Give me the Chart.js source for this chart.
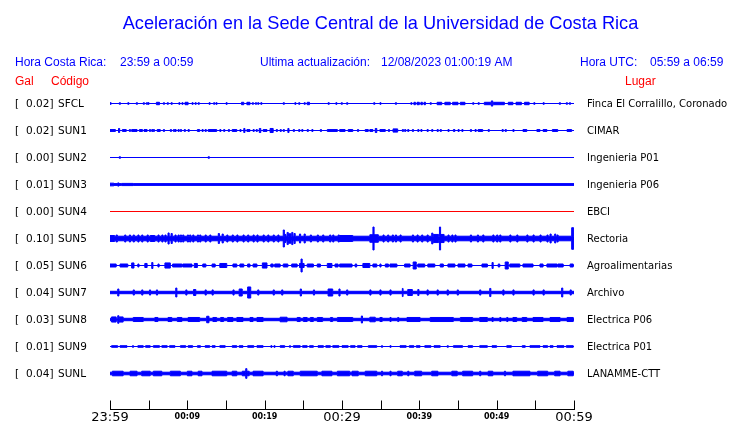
<!DOCTYPE html>
<html>
<head>
<meta charset="utf-8">
<title>Aceleración en la Sede Central de la Universidad de Costa Rica</title>
<script src="https://cdn.jsdelivr.net/npm/chart.js@4.4.1/dist/chart.umd.min.js"></script>
<style>
    html, body { margin: 0; padding: 0; background: #fff; }
    #wrap { position: relative; width: 740px; height: 423px; }
</style>
</head>
<body>
<div id="wrap"><canvas id="accelChart" width="740" height="423"></canvas></div>
<script>
"use strict";

// ---- data ----
const chartTitle = "Aceleración en la Sede Central de la Universidad de Costa Rica";
const localRange = "23:59 a 00:59";
const utcRange = "05:59 a 06:59";
const lastUpdate = "12/08/2023 01:00:19 AM";

const stationCodes = ["SFCL", "SUN1", "SUN2", "SUN3", "SUN4", "SUN5", "SUN6", "SUN7", "SUN8", "SUN9", "SUNL"];
const stationPlaces = ["Finca El Corralillo, Coronado", "CIMAR", "Ingenieria P01", "Ingenieria P06", "EBCI",
    "Rectoria", "Agroalimentarias", "Archivo", "Electrica P06", "Electrica P01", "LANAMME-CTT"];
const stationPeaks = [0.02, 0.02, 0.00, 0.01, 0.00, 0.10, 0.05, 0.04, 0.03, 0.01, 0.04];

// background noise level of each trace (Gal, half width)
const stationFloors = [0, 0, 0, 0.0065, 0, 0.017, 0, 0.009, 0.009, 0, 0.0095];

// envelope events: [minute, Gal] = single spike, [fromMinute, toMinute, Gal] = burst
const sfclEvents = [
    [0, 0.006], [1.2, 0.006], [2.3, 0.006], [3.4, 0.006], [4.3, 0.006], [4.7, 0.006], [4.9, 0.006],
    [6.0, 6.4, 0.009], [6.9, 0.006], [7.4, 0.006], [7.9, 0.006], [8.9, 0.006], [9.3, 0.006],
    [9.7, 10.1, 0.009], [10.6, 0.006], [11.0, 0.006], [11.4, 0.006], [12.8, 0.006], [13.4, 0.006],
    [13.7, 0.006], [15.0, 0.006], [17.0, 17.3, 0.009], [17.7, 18.1, 0.009], [18.4, 0.006], [18.8, 0.006],
    [19.1, 0.006], [19.5, 0.006], [22.4, 0.006], [23.9, 0.006], [24.4, 0.006], [25.1, 0.006],
    [25.5, 25.8, 0.009], [28.2, 0.006], [29.2, 0.006], [29.9, 0.006], [30.6, 0.006], [34.1, 0.006],
    [34.9, 0.006], [36.9, 0.006], [38.9, 0.006], [39.3, 39.5, 0.009], [39.7, 40.0, 0.009],
    [40.2, 40.4, 0.009], [40.6, 40.8, 0.009], [41.4, 0.006], [42.3, 42.9, 0.009], [43.3, 44.0, 0.009],
    [44.3, 45.0, 0.009], [45.3, 45.9, 0.009], [46.9, 0.006], [47.6, 0.006], [48.4, 49.2, 0.009],
    [49.3, 49.5, 0.019], [49.6, 51.0, 0.009], [51.5, 52.1, 0.009], [52.5, 53.2, 0.009], [53.6, 54.2, 0.009],
    [54.8, 0.006], [56.0, 0.006], [58.1, 0.006], [59.0, 0.006], [59.4, 0.006]
];
const sun1Events = [
    [0, 0.7, 0.007], [1.1, 0.015], [1.6, 2.1, 0.007], [2.5, 0.007], [2.8, 3.5, 0.007], [3.8, 4.2, 0.007],
    [4.4, 4.8, 0.007], [5.1, 0.007], [5.4, 0.007], [5.6, 0.007], [6.1, 6.5, 0.007], [6.9, 0.007],
    [7.8, 0.007], [8.2, 0.007], [8.4, 0.007], [8.8, 0.007], [9.1, 0.007], [9.6, 0.007], [10.1, 0.007],
    [11.3, 11.6, 0.007], [11.9, 0.007], [12.3, 0.007], [12.7, 13.8, 0.007], [14.2, 0.007], [14.7, 0.007],
    [15.3, 0.007], [15.8, 16.4, 0.007], [16.8, 0.007], [17.3, 0.015], [17.7, 18.1, 0.007], [18.5, 0.007],
    [18.9, 0.007], [19.3, 19.5, 0.015], [19.8, 20.3, 0.007], [20.7, 21.1, 0.015], [21.5, 0.007],
    [22.0, 0.007], [22.4, 0.007], [23.0, 0.015], [23.7, 0.007], [24.4, 0.007], [24.8, 0.007],
    [25.5, 0.007], [26.1, 0.007], [27.2, 0.007], [28.1, 29.4, 0.007], [29.7, 30.4, 0.007],
    [30.8, 31.4, 0.007], [32.0, 0.007], [33.0, 33.4, 0.007], [33.6, 34.0, 0.007], [34.3, 34.5, 0.015],
    [34.9, 35.6, 0.007], [36.0, 0.007], [36.6, 37.2, 0.012], [37.8, 0.007], [38.1, 0.007], [38.5, 0.007],
    [39.1, 0.007], [39.8, 0.007], [40.2, 0.007], [41.0, 0.007], [41.6, 0.007], [42.3, 0.007],
    [42.7, 0.007], [43.7, 0.007], [44.4, 44.6, 0.007], [45.0, 0.007], [45.5, 0.007], [46.6, 0.007],
    [47.2, 0.007], [47.6, 48.2, 0.007], [48.9, 0.007], [50.7, 0.007], [51.1, 0.007], [52.1, 0.007],
    [53.4, 53.9, 0.007], [55.2, 55.6, 0.007], [56.0, 56.5, 0.007], [57.2, 57.9, 0.007], [59.1, 59.7, 0.007]
];
const sun2Events = [[1.2, 0.006], [12.7, 0.006]];
const sun3Events = [[0, 0.5, 0.010], [1.0, 0.012], [1.5, 3.0, 0.008]];
const sun4Events = [];
const sun5Events = [
    [0, 0.6, 0.022], [0.8, 0.026], [1.9, 0.026], [2.5, 0.026], [3.0, 0.026], [3.6, 0.026], [4.1, 0.026],
    [4.8, 0.026], [5.2, 5.8, 0.022], [6.2, 0.026], [6.7, 0.026], [7.1, 0.026], [7.5, 0.041], [7.9, 0.037],
    [8.4, 0.026], [8.8, 0.026], [9.1, 0.026], [9.4, 0.026], [10.0, 0.026], [10.3, 0.026], [10.7, 0.026],
    [11.3, 0.026], [11.6, 0.026], [12.3, 0.026], [12.9, 0.026], [14.0, 0.037], [14.5, 0.033],
    [15.1, 0.026], [15.8, 0.026], [16.4, 0.026], [17.2, 0.026], [17.8, 0.026], [18.5, 0.026],
    [19.0, 0.026], [19.8, 0.026], [20.4, 0.026], [21.1, 0.026], [21.7, 0.026], [22.4, 0.063],
    [22.6, 0.030], [22.9, 0.045], [23.1, 23.4, 0.035], [23.5, 0.045], [23.8, 0.037], [24.5, 0.033],
    [25.1, 0.033], [25.9, 0.026], [26.8, 0.026], [27.5, 0.026], [28.4, 0.026], [28.8, 0.026],
    [29.5, 0.026], [29.7, 31.4, 0.022], [33.6, 34.0, 0.028], [34.0, 0.085], [34.15, 34.7, 0.028],
    [35.3, 0.026], [35.9, 0.026], [36.5, 0.026], [36.9, 0.026], [37.5, 0.026], [39.1, 0.026],
    [39.7, 0.026], [40.3, 0.026], [41.0, 0.026], [41.6, 0.040], [41.8, 42.5, 0.030], [42.6, 0.085],
    [42.75, 43.2, 0.030], [43.7, 0.026], [44.2, 0.026], [44.6, 0.026], [46.6, 0.026], [47.5, 0.026],
    [48.2, 0.026], [49.5, 0.026], [50.0, 0.026], [50.4, 0.026], [51.7, 0.026], [52.6, 0.026],
    [53.9, 0.026], [54.7, 0.026], [55.6, 0.026], [56.5, 0.026], [56.9, 0.033], [57.5, 0.033],
    [57.8, 0.026], [59.7, 59.95, 0.080]
];
const sun6Events = [
    [0, 0.8, 0.011], [1.3, 2.3, 0.011], [2.8, 3.1, 0.019], [3.6, 0.011], [4.5, 4.8, 0.015], [5.4, 0.022],
    [6.2, 0.011], [7.1, 7.8, 0.019], [8.1, 9.3, 0.011], [9.4, 10.6, 0.011], [10.9, 11.3, 0.015],
    [12.0, 12.4, 0.011], [13.2, 13.6, 0.011], [14.2, 15.1, 0.015], [15.9, 16.4, 0.011], [16.8, 17.3, 0.011],
    [17.8, 18.1, 0.011], [18.5, 19.0, 0.011], [19.7, 20.3, 0.019], [20.8, 21.1, 0.011], [21.3, 22.0, 0.011],
    [22.4, 23.0, 0.011], [23.5, 24.2, 0.011], [24.5, 24.7, 0.015], [24.7, 0.048], [24.85, 25.1, 0.015],
    [25.5, 26.3, 0.011], [26.8, 27.2, 0.011], [28.1, 28.7, 0.015], [29.1, 29.5, 0.011], [29.7, 31.3, 0.011],
    [31.7, 31.9, 0.011], [32.7, 33.6, 0.015], [34.0, 34.5, 0.011], [34.9, 0.011], [35.6, 36.0, 0.011],
    [36.2, 37.1, 0.011], [38.1, 38.8, 0.011], [39.2, 39.6, 0.026], [39.8, 40.7, 0.011], [41.1, 42.0, 0.011],
    [42.7, 43.1, 0.011], [43.7, 44.6, 0.011], [45.0, 45.9, 0.011], [46.3, 46.8, 0.011], [48.1, 48.8, 0.011],
    [49.4, 0.022], [50.2, 50.4, 0.011], [51.1, 51.5, 0.026], [51.7, 53.0, 0.011], [53.4, 54.7, 0.011],
    [55.6, 56.0, 0.011], [56.5, 57.8, 0.011], [57.9, 58.6, 0.011], [59.5, 59.9, 0.011]
];
const sun7Events = [
    [1.0, 0.026], [3.0, 0.019], [4.1, 0.019], [5.1, 0.019], [6.0, 0.019], [8.5, 0.033], [9.8, 0.019],
    [10.8, 11.1, 0.022], [12.3, 0.019], [13.2, 0.019], [15.9, 0.019], [16.7, 17.1, 0.026],
    [17.8, 18.2, 0.041], [19.1, 0.019], [21.1, 0.019], [22.2, 0.019], [24.6, 0.026], [26.3, 0.019],
    [28.2, 28.8, 0.026], [29.6, 0.026], [30.6, 0.019], [33.6, 0.019], [34.9, 0.019], [36.2, 0.019],
    [37.8, 37.9, 0.030], [38.5, 39.1, 0.022], [39.8, 0.022], [41.0, 0.019], [42.3, 0.019], [43.6, 0.019],
    [44.9, 0.019], [47.8, 0.019], [49.1, 0.030], [50.8, 0.019], [52.1, 0.019], [54.7, 0.019],
    [56.0, 0.019], [58.4, 0.033], [59.5, 0.019]
];
const sun8Events = [
    [0.2, 0.8, 0.019], [1.0, 0.028], [1.2, 1.7, 0.019], [3.0, 4.3, 0.015], [5.8, 6.2, 0.015],
    [7.5, 8.0, 0.015], [8.7, 9.3, 0.015], [10.1, 11.6, 0.015], [12.5, 12.8, 0.024], [13.3, 13.8, 0.015],
    [14.3, 14.7, 0.015], [15.2, 15.9, 0.015], [16.4, 17.2, 0.015], [18.1, 18.5, 0.015], [19.0, 19.8, 0.015],
    [22.0, 22.9, 0.017], [24.2, 24.6, 0.015], [25.0, 25.5, 0.015], [25.9, 26.3, 0.015], [26.8, 27.5, 0.015],
    [28.5, 28.8, 0.015], [29.4, 31.4, 0.015], [32.5, 0.026], [33.6, 34.3, 0.017], [34.9, 35.2, 0.015],
    [36.2, 0.015], [37.2, 0.015], [38.4, 40.1, 0.015], [41.4, 44.4, 0.015], [45.3, 46.9, 0.015],
    [47.8, 48.8, 0.015], [49.4, 0.015], [50.4, 0.015], [51.3, 0.015], [52.1, 52.6, 0.015],
    [53.3, 53.9, 0.015], [54.7, 56.0, 0.015], [56.9, 58.2, 0.015], [59.1, 59.9, 0.015]
];
const sun9Events = [
    [0.2, 1.0, 0.006], [1.3, 2.2, 0.006], [2.9, 0.006], [3.6, 4.3, 0.006], [4.6, 5.2, 0.006],
    [5.6, 6.4, 0.006], [6.7, 7.4, 0.006], [7.7, 8.4, 0.006], [9.1, 9.8, 0.006], [10.1, 10.7, 0.006],
    [11.3, 11.7, 0.006], [12.3, 12.9, 0.006], [13.2, 13.6, 0.006], [14.2, 14.9, 0.006], [15.8, 16.4, 0.006],
    [16.7, 17.2, 0.006], [17.8, 18.6, 0.006], [19.0, 19.8, 0.006], [20.8, 0.006], [21.2, 0.006],
    [22.0, 22.6, 0.006], [23.2, 0.006], [23.7, 24.6, 0.006], [24.9, 25.5, 0.006], [25.8, 26.3, 0.006],
    [26.9, 27.6, 0.006], [27.9, 28.5, 0.006], [28.8, 29.6, 0.006], [30.0, 30.8, 0.006], [31.1, 31.7, 0.006],
    [32.0, 32.6, 0.006], [33.4, 34.5, 0.006], [35.1, 0.006], [36.2, 0.006], [37.5, 38.3, 0.006],
    [38.7, 39.3, 0.006], [39.6, 40.1, 0.006], [40.7, 41.5, 0.006], [41.9, 42.7, 0.006], [43.6, 0.006],
    [44.4, 45.6, 0.006], [46.3, 46.9, 0.006], [47.8, 48.8, 0.006], [49.4, 50.0, 0.006], [51.3, 51.9, 0.006],
    [53.3, 53.7, 0.006], [54.3, 55.6, 0.006], [56.0, 56.6, 0.006], [56.9, 57.3, 0.006], [57.8, 58.7, 0.006],
    [59.0, 59.9, 0.006]
];
const sunlEvents = [
    [0.3, 1.7, 0.017], [2.6, 3.5, 0.017], [4.1, 5.2, 0.017], [5.6, 6.7, 0.017], [7.8, 9.1, 0.017],
    [10.0, 10.6, 0.017], [11.4, 11.9, 0.017], [13.2, 15.1, 0.017], [15.8, 16.4, 0.017], [17.1, 17.5, 0.017],
    [17.55, 0.036], [17.75, 18.0, 0.017], [18.5, 19.8, 0.017], [21.5, 0.017], [22.5, 0.017],
    [23.0, 23.7, 0.017], [24.6, 26.8, 0.017], [27.4, 28.7, 0.017], [29.4, 31.0, 0.017], [31.3, 32.1, 0.017],
    [33.0, 34.5, 0.017], [35.1, 0.017], [36.2, 0.017], [37.2, 37.8, 0.017], [38.5, 0.017],
    [39.4, 40.3, 0.017], [41.6, 42.4, 0.017], [44.2, 44.9, 0.017], [45.6, 46.9, 0.017], [47.8, 0.017],
    [48.9, 49.5, 0.017], [51.0, 0.017], [52.1, 54.3, 0.017], [55.3, 56.6, 0.017], [57.5, 58.2, 0.017],
    [59.2, 59.9, 0.017]
];
const stationEvents = [sfclEvents, sun1Events, sun2Events, sun3Events, sun4Events, sun5Events,
    sun6Events, sun7Events, sun8Events, sun9Events, sunlEvents];

// time axis (minutes after 23:59 local)
const windowMinutes = 60;
const tickStepMinutes = 5;
const tickLabelMinutes = [0, 10, 20, 30, 40, 50, 60];
const tickLabels = ["23:59", "00:09", "00:19", "00:29", "00:39", "00:49", "00:59"];
const majorTickLabels = ["23:59", "00:29", "00:59"];

// ---- drawing ----
const BLUE = "#0000ff";
const RED = "#ff0000";
const STATION_STEP = 0.2;       // Gal between trace baselines
const SPIKE_MINUTES = 0.15;     // width of a single spike sample
const Y_MAX = 0.10741;
const Y_MIN = -2.26296;

function buildEnvelope(floor, events) {
    const points = [{ x: 0, a: floor }];

    events.forEach(ev => {
        const from = ev[0];
        const to = ev.length === 3 ? ev[1] : ev[0] + SPIKE_MINUTES;
        const amp = ev[ev.length - 1];
        points.push({ x: from, a: amp });
        points.push({ x: to, a: floor });
    });

    points.push({ x: windowMinutes, a: floor });
    return points;
}

function buildDatasets() {
    const datasets = [];

    stationCodes.forEach((code, i) => {
        const base = -STATION_STEP * i;
        const envelope = buildEnvelope(stationFloors[i], stationEvents[i]);
        const color = code === "SUN4" ? RED : BLUE;
        const common = {
            type: "line",
            borderColor: color,
            backgroundColor: color,
            borderWidth: 1,
            pointRadius: 0,
            stepped: true,
            tension: 0
        };

        datasets.push({
            ...common,
            label: code + " +",
            data: envelope.map(p => ({ x: p.x, y: base + p.a })),
            fill: "+1"
        });
        datasets.push({
            ...common,
            label: code + " -",
            data: envelope.map(p => ({ x: p.x, y: base - p.a })),
            fill: false
        });
    });

    return datasets;
}

const textPlugin = {
    id: "seismoText",
    afterDraw(chart) {
        const ctx = chart.ctx;
        const xs = chart.scales.x;
        const ys = chart.scales.y;

        ctx.save();

        // header
        ctx.textBaseline = "alphabetic";
        ctx.fillStyle = BLUE;
        ctx.font = '18.2px "Liberation Sans", Arial, sans-serif';
        ctx.textAlign = "center";
        ctx.fillText(chartTitle, 380.5, 29);

        ctx.textAlign = "left";
        ctx.font = '12px "Liberation Sans", Arial, sans-serif';
        ctx.fillText("Hora Costa Rica:", 15, 65.5);
        ctx.fillText(localRange, 120, 65.5);
        ctx.fillText("Ultima actualización:", 260, 65.5);
        ctx.fillText(lastUpdate, 381, 65.5);
        ctx.fillText("Hora UTC:", 580, 65.5);
        ctx.fillText(utcRange, 650, 65.5);

        ctx.fillStyle = RED;
        ctx.fillText("Gal", 15, 84.5);
        ctx.fillText("Código", 51, 84.5);
        ctx.fillText("Lugar", 625, 84.5);

        // station labels
        ctx.fillStyle = "#000";
        stationCodes.forEach((code, i) => {
            const py = Math.round(ys.getPixelForValue(-STATION_STEP * i)) + 3;
            ctx.font = '10.5px "DejaVu Sans", sans-serif';
            ctx.textAlign = "left";
            ctx.fillText("[", 15, py);
            ctx.textAlign = "right";
            ctx.fillText(stationPeaks[i].toFixed(2) + "]", 53.5, py);
            ctx.textAlign = "left";
            ctx.fillText(code, 58, py);

            ctx.font = '10px "DejaVu Sans", sans-serif';
            ctx.fillText(stationPlaces[i], 587, py);
        });

        // time axis
        const axisY = Math.round(chart.chartArea.bottom) + 0.5;
        ctx.strokeStyle = "#000";
        ctx.lineWidth = 1;
        ctx.beginPath();
        ctx.moveTo(xs.getPixelForValue(0), axisY);
        ctx.lineTo(xs.getPixelForValue(windowMinutes) + 1, axisY);
        for (let m = 0; m <= windowMinutes; m += tickStepMinutes) {
            const px = Math.round(xs.getPixelForValue(m)) + 0.5;
            ctx.moveTo(px, axisY);
            ctx.lineTo(px, axisY - 9);
        }
        ctx.stroke();

        ctx.textAlign = "center";
        tickLabelMinutes.forEach((m, k) => {
            const label = tickLabels[k];
            const px = xs.getPixelForValue(m);
            if (majorTickLabels.includes(label)) {
                ctx.font = '13px "DejaVu Sans", sans-serif';
                ctx.fillText(label, px, 421);
            } else {
                ctx.font = 'bold 8px "DejaVu Sans", sans-serif';
                ctx.fillText(label, px, 419);
            }
        });

        ctx.restore();
    }
};

document.addEventListener("DOMContentLoaded", () => {
    const ctx = document.getElementById("accelChart");

    new Chart(ctx, {
        type: "line",
        data: { datasets: buildDatasets() },
        options: {
            responsive: false,
            animation: false,
            events: [],
            layout: { padding: { left: 110, right: 166, top: 89, bottom: 14 } },
            plugins: {
                legend: { display: false },
                tooltip: { enabled: false },
                title: { display: false }
            },
            scales: {
                x: { type: "linear", min: 0, max: windowMinutes, display: false },
                y: { type: "linear", min: Y_MIN, max: Y_MAX, display: false }
            }
        },
        plugins: [textPlugin]
    });
});
</script>
</body>
</html>
